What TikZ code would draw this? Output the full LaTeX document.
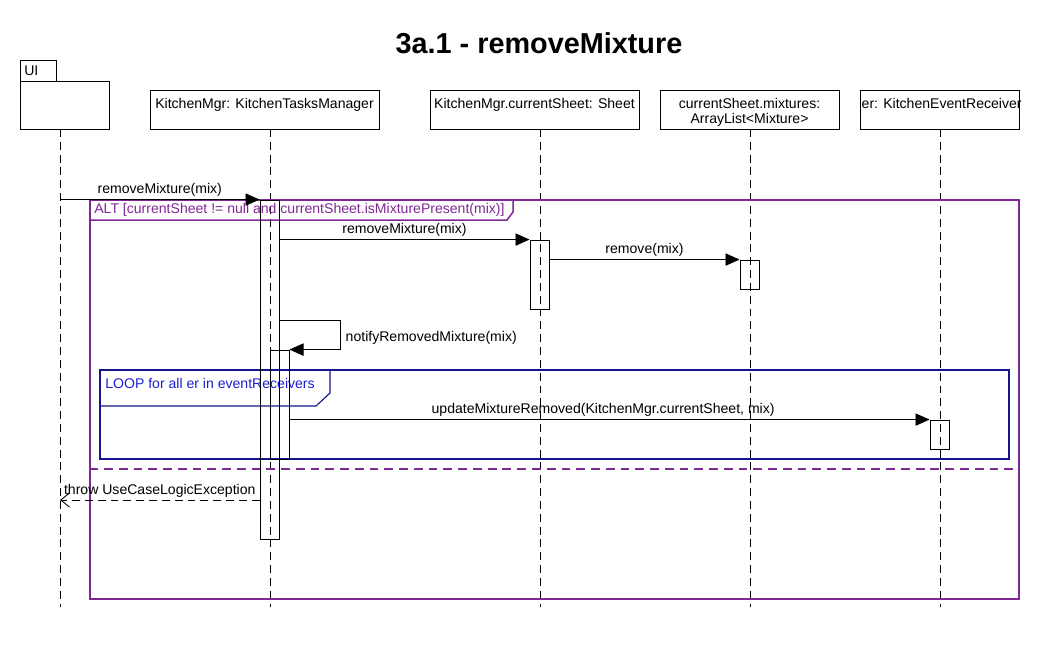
\documentclass[tikz,border=0pt]{standalone}
\usepackage{fontspec}
\setmainfont{Liberation Sans}
\definecolor{altpurple}{RGB}{128,40,150}
\definecolor{loopblue}{RGB}{20,20,140}
\definecolor{looptext}{RGB}{30,30,210}
\usetikzlibrary{arrows.meta,positioning,fit,calc}
\tikzset{
  actor/.style={rectangle,draw,inner sep=0pt,line width=0.5pt},
  lbl/.style={font=\fontsize{8}{8.6}\selectfont,inner sep=0pt,align=center},
  lifeline/.style={dash pattern=on 4.5pt off 2.8pt,line width=0.5pt},
  act/.style={rectangle,draw,inner sep=0pt,line width=0.5pt},
  msg/.style={-{Triangle[length=8pt,width=7pt]},line width=0.5pt},
  ret/.style={-{Straight Barb[length=5pt,width=8pt]},
              dash pattern=on 4.5pt off 2.8pt,line width=0.5pt},
  msglbl/.style={font=\fontsize{8}{9.5}\selectfont,above,inner sep=1.5pt},
  altpen/.style={draw=altpurple,line width=0.85pt},
  looppen/.style={draw=loopblue,line width=0.65pt},
}

\begin{document}
\begin{tikzpicture}[x=0.02cm,y=-0.02cm]
  \useasboundingbox (0,0) rectangle (1040,650);
  \node[font=\bfseries\fontsize{16.4}{18}\selectfont] (title) at (539,43) {3a.1 - removeMixture};

  % participants
  \node[actor,fit={(20,60)(56,81)}] (uiTab) {};
  \node[lbl,anchor=west] at ([xshift=2.5pt]uiTab.west) {UI};
  \node[actor,fit={(20,81)(109,129)}] (uiBox) {};
  \node[actor,fit={(150,90)(379,129)}] (kmBox) {};
  \node[actor,fit={(430,90)(639,129)}] (shBox) {};
  \node[actor,fit={(660,90)(839,129)}] (mxBox) {};
  \node[actor,fit={(860,90)(1019,129)}] (erBox) {};
  \node[lbl,anchor=north] at ([yshift=-4.5pt]kmBox.north) {KitchenMgr: KitchenTasksManager};
  \node[lbl,anchor=north] at ([yshift=-4.5pt]shBox.north) {KitchenMgr.currentSheet: Sheet};
  \node[lbl,anchor=north] at ([yshift=-4.5pt]mxBox.north) {currentSheet.mixtures:\\ArrayList<Mixture>};
  \node[lbl,anchor=north west] at ([xshift=1pt,yshift=-4.5pt]erBox.north west) {er: KitchenEventReceiver};

  % lifelines
  \foreach \n/\x in {ui/60,km/270,sh/540,mx/750,er/940} {
    \coordinate (\n-top) at (\x,129);
    \coordinate (\n-end) at (\x,607);
    \draw[lifeline] (\n-top) -- (\n-end);
  }

  % frames
  \node[altpen,fit={(90,200)(1019,599)},inner sep=0pt] (alt) {};
  \draw[altpen] (90,220) -- (507,220) -- (513,212) -- (513,200);
  \node[lbl,anchor=west,text=altpurple] (altLbl) at (94,210)
    {ALT [currentSheet != null and currentSheet.isMixturePresent(mix)]};
  \coordinate (elseY) at (0,469);
  \draw[altpen,line width=1.1pt,dash pattern=on 5pt off 3.4pt] (alt.west |- elseY) -- (alt.east |- elseY);

  \node[looppen,fit={(100,370)(1009,459)},inner sep=0pt] (loop) {};
  \draw[looppen] (100,406) -- (316,406) -- (330,393) -- (330,370);
  \node[lbl,anchor=west,text=looptext] (loopLbl) at (105,383) {LOOP for all er in eventReceivers};

  % activations
  \node[act,fit={(260,200)(279,539)}] (kmAct) {};
  \node[act,fit={(530,240)(549,309)}] (shAct) {};
  \node[act,fit={(740,260)(759,289)}] (mxAct) {};
  \node[act,fit={(270,350)(289,459)}] (kmAct2) {};
  \node[act,fit={(930,420)(949,449)}] (erAct) {};

  % messages
  \draw[msg] (ui-top |- kmAct.north) -- node[msglbl] {removeMixture(mix)} (kmAct.north west);
  \draw[msg] (kmAct.east |- shAct.north) -- node[msglbl] {removeMixture(mix)} (shAct.north west);
  \draw[msg] (shAct.east |- mxAct.north) -- node[msglbl] {remove(mix)} (mxAct.north west);
  \coordinate (self) at (340,320);
  \draw[msg] (kmAct.east |- self) -- (self)
    -- node[lbl,right=3pt,pos=0.6] {notifyRemovedMixture(mix)} (self |- kmAct2.north)
    -- (kmAct2.north east);
  \draw[msg] (kmAct2.east |- erAct.north)
    -- node[msglbl,pos=0.49] {updateMixtureRemoved(KitchenMgr.currentSheet, mix)} (erAct.north west);
  \coordinate (throwY) at (0,500);
  \draw[ret] (kmAct.west |- throwY) -- node[msglbl] {throw UseCaseLogicException} (ui-top |- throwY);
\end{tikzpicture}
\end{document}
